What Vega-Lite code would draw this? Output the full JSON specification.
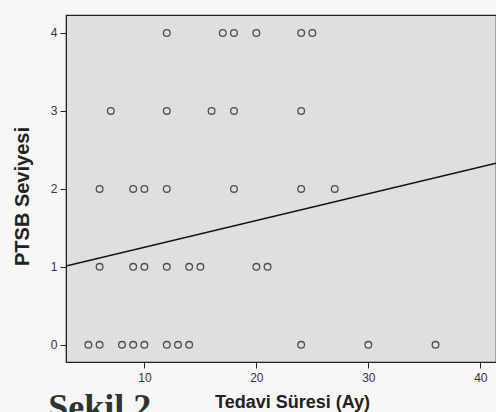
{
  "$schema": "https://vega.github.io/schema/vega-lite/v6.json",
  "autosize": "none",
  "width": 430,
  "height": 347,
  "padding": {"left": 66, "top": 15, "right": 0, "bottom": 50},
  "background": "#f7f7f5",
  "title": {"text": "Sekil 2.", "orient": "bottom", "anchor": "start", "dx": 36, "offset": -20, "font": "Liberation Serif", "fontSize": 36, "fontWeight": "bold", "color": "#2c352e"},
  "config": {
    "view": {"fill": "#dfdfdd", "stroke": "#222", "strokeWidth": 1.2},
    "axis": {"labelFont": "Liberation Sans", "labelFontSize": 12, "labelColor": "#333", "titleFont": "Liberation Sans", "titleFontWeight": "bold", "titleColor": "#222", "domainColor": "#222", "tickColor": "#222", "grid": false}
  },
  "datasets": {
    "pts": [
      {"ay": 12, "ptsb": 4}, {"ay": 17, "ptsb": 4}, {"ay": 18, "ptsb": 4}, {"ay": 20, "ptsb": 4}, {"ay": 24, "ptsb": 4}, {"ay": 25, "ptsb": 4},
      {"ay": 7, "ptsb": 3}, {"ay": 12, "ptsb": 3}, {"ay": 16, "ptsb": 3}, {"ay": 18, "ptsb": 3}, {"ay": 24, "ptsb": 3},
      {"ay": 6, "ptsb": 2}, {"ay": 9, "ptsb": 2}, {"ay": 10, "ptsb": 2}, {"ay": 12, "ptsb": 2}, {"ay": 18, "ptsb": 2}, {"ay": 24, "ptsb": 2}, {"ay": 27, "ptsb": 2},
      {"ay": 6, "ptsb": 1}, {"ay": 9, "ptsb": 1}, {"ay": 10, "ptsb": 1}, {"ay": 12, "ptsb": 1}, {"ay": 14, "ptsb": 1}, {"ay": 15, "ptsb": 1}, {"ay": 20, "ptsb": 1}, {"ay": 21, "ptsb": 1},
      {"ay": 5, "ptsb": 0}, {"ay": 6, "ptsb": 0}, {"ay": 8, "ptsb": 0}, {"ay": 9, "ptsb": 0}, {"ay": 10, "ptsb": 0}, {"ay": 12, "ptsb": 0}, {"ay": 13, "ptsb": 0}, {"ay": 14, "ptsb": 0}, {"ay": 24, "ptsb": 0}, {"ay": 30, "ptsb": 0}, {"ay": 36, "ptsb": 0}
    ],
    "fit": [
      {"ay": 3, "ptsb": 1.01},
      {"ay": 41.4, "ptsb": 2.33}
    ]
  },
  "layer": [
    {
      "data": {"name": "fit"},
      "mark": {"type": "line", "color": "#111", "strokeWidth": 1.5, "clip": true},
      "encoding": {
        "x": {"field": "ay", "type": "quantitative", "scale": {"domain": [3, 41.4], "nice": false, "zero": false}},
        "y": {"field": "ptsb", "type": "quantitative", "scale": {"domain": [-0.22, 4.23], "nice": false, "zero": false}}
      }
    },
    {
      "data": {"name": "pts"},
      "mark": {"type": "point", "shape": "circle", "filled": false, "color": "#111", "strokeWidth": 1.3, "size": 45},
      "encoding": {
        "x": {"field": "ay", "type": "quantitative", "title": "Tedavi Süresi (Ay)", "scale": {"domain": [3, 41.4], "nice": false, "zero": false}, "axis": {"values": [10, 20, 30, 40], "tickSize": 6, "labelPadding": 4, "titleFontSize": 18, "titleY": 31, "titleX": 226}},
        "y": {"field": "ptsb", "type": "quantitative", "title": "PTSB Seviyesi", "scale": {"domain": [-0.22, 4.23], "nice": false, "zero": false}, "axis": {"values": [0, 1, 2, 3, 4], "format": "d", "tickSize": 6, "labelPadding": 3, "titleFontSize": 20, "titlePadding": 18, "titleY": 181}}
      }
    }
  ]
}
